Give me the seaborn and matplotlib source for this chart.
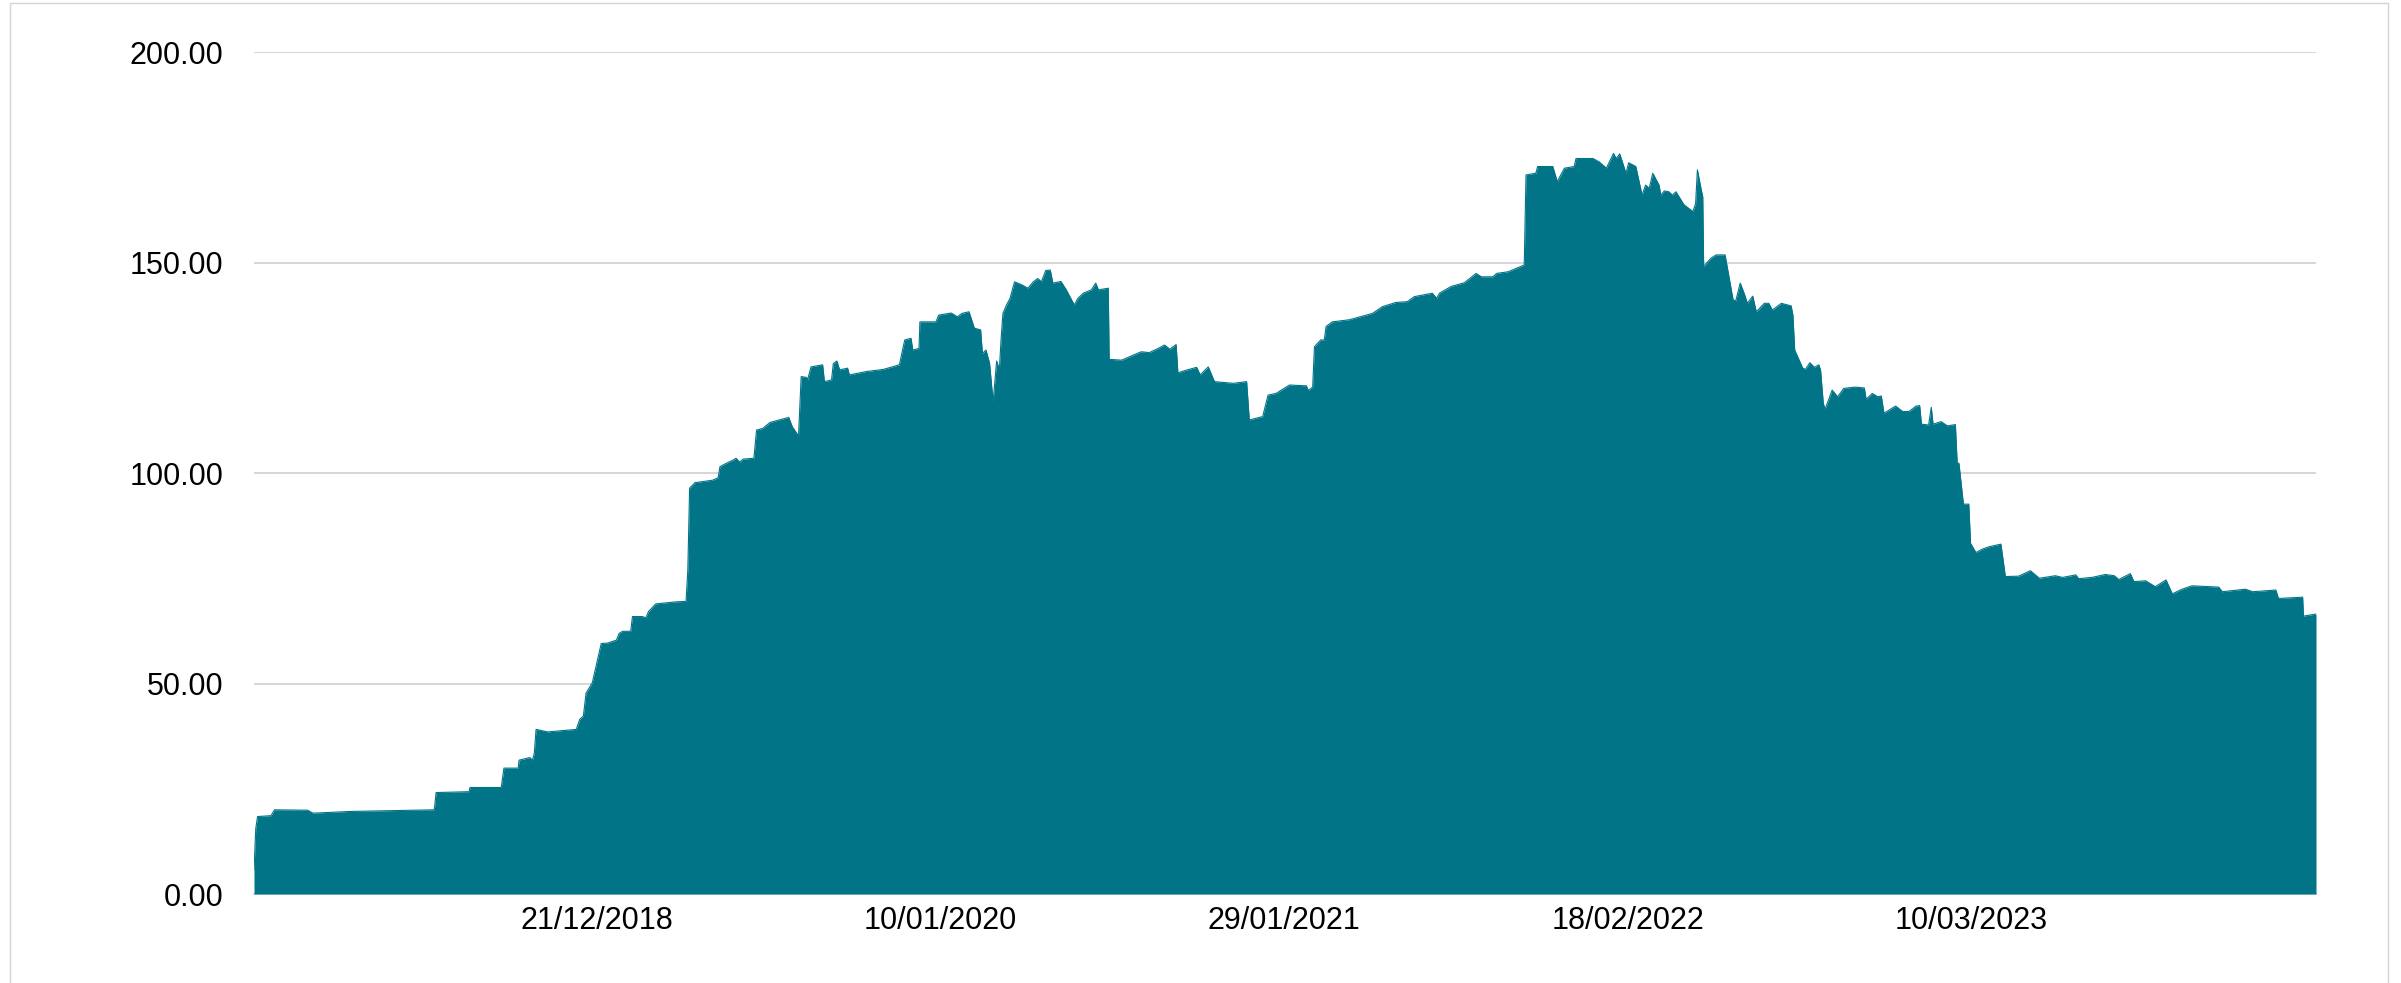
import pandas as pd
import numpy as np
import matplotlib
matplotlib.use("Agg")
import matplotlib.pyplot as plt
from matplotlib.patches import Rectangle
import seaborn as sns

# values
dates = [
    "2017-12-02", "2017-12-04", "2017-12-06", "2017-12-21", "2017-12-25", "2018-01-31", "2018-02-06",
    "2018-03-19", "2018-06-22", "2018-06-24", "2018-07-31", "2018-08-01", "2018-09-05", "2018-09-08",
    "2018-09-24", "2018-09-25", "2018-10-07", "2018-10-10", "2018-10-12", "2018-10-14", "2018-10-27",
    "2018-11-28", "2018-12-02", "2018-12-06", "2018-12-09", "2018-12-16", "2018-12-26", "2019-01-02",
    "2019-01-12", "2019-01-15", "2019-01-19", "2019-01-28", "2019-01-30", "2019-02-10", "2019-02-14",
    "2019-02-17", "2019-02-25", "2019-03-20", "2019-03-31", "2019-04-02", "2019-04-04", "2019-04-10",
    "2019-04-30", "2019-05-06", "2019-05-08", "2019-05-15", "2019-05-23", "2019-05-26", "2019-05-30",
    "2019-06-03", "2019-06-15", "2019-06-18", "2019-06-25", "2019-07-03", "2019-07-24", "2019-07-28",
    "2019-08-04", "2019-08-07", "2019-08-13", "2019-08-14", "2019-08-18", "2019-08-31", "2019-09-02",
    "2019-09-10", "2019-09-12", "2019-09-16", "2019-09-19", "2019-09-28", "2019-09-30", "2019-10-19",
    "2019-11-07", "2019-11-25", "2019-12-01", "2019-12-08", "2019-12-10", "2019-12-17", "2019-12-18",
    "2020-01-05", "2020-01-08", "2020-01-22", "2020-01-29", "2020-02-03", "2020-02-11", "2020-02-17",
    "2020-02-24", "2020-02-26", "2020-03-01", "2020-03-05", "2020-03-09", "2020-03-13", "2020-03-16",
    "2020-03-18", "2020-03-20", "2020-03-24", "2020-03-28", "2020-04-02", "2020-04-10", "2020-04-17",
    "2020-04-23", "2020-04-28", "2020-05-02", "2020-05-07", "2020-05-12", "2020-05-15", "2020-05-24",
    "2020-05-30", "2020-06-08", "2020-06-12", "2020-06-18", "2020-06-27", "2020-07-02", "2020-07-05",
    "2020-07-16", "2020-07-17", "2020-07-31", "2020-08-13", "2020-08-22", "2020-08-31", "2020-09-10",
    "2020-09-17", "2020-09-23", "2020-09-30", "2020-10-02", "2020-10-11", "2020-10-23", "2020-10-27",
    "2020-11-05", "2020-11-12", "2020-12-03", "2020-12-18", "2020-12-21", "2021-01-05", "2021-01-11",
    "2021-01-20", "2021-02-04", "2021-02-23", "2021-02-25", "2021-03-02", "2021-03-04", "2021-03-11",
    "2021-03-15", "2021-03-17", "2021-03-24", "2021-04-12", "2021-05-08", "2021-05-19", "2021-06-03",
    "2021-06-16", "2021-06-24", "2021-07-14", "2021-07-19", "2021-07-22", "2021-08-04", "2021-08-19",
    "2021-09-01", "2021-09-07", "2021-09-20", "2021-09-24", "2021-10-07", "2021-10-25", "2021-10-27",
    "2021-11-07", "2021-11-09", "2021-11-26", "2021-12-01", "2021-12-09", "2021-12-20", "2021-12-22",
    "2022-01-10", "2022-01-17", "2022-01-25", "2022-02-02", "2022-02-05", "2022-02-09", "2022-02-16",
    "2022-02-19", "2022-02-27", "2022-03-06", "2022-03-10", "2022-03-14", "2022-03-18", "2022-03-25",
    "2022-03-27", "2022-03-31", "2022-04-05", "2022-04-09", "2022-04-13", "2022-04-22", "2022-05-02",
    "2022-05-05", "2022-05-07", "2022-05-11", "2022-05-13", "2022-05-14", "2022-05-22", "2022-05-28",
    "2022-06-07", "2022-06-16", "2022-06-19", "2022-06-24", "2022-06-29", "2022-07-02", "2022-07-08",
    "2022-07-12", "2022-07-21", "2022-07-26", "2022-07-30", "2022-08-09", "2022-08-20", "2022-08-22",
    "2022-08-24", "2022-09-02", "2022-09-05", "2022-09-10", "2022-09-15", "2022-09-20", "2022-09-22",
    "2022-09-25", "2022-09-27", "2022-10-05", "2022-10-11", "2022-10-18", "2022-10-31", "2022-11-10",
    "2022-11-12", "2022-11-19", "2022-11-25", "2022-11-29", "2022-12-02", "2022-12-15", "2022-12-23",
    "2022-12-30", "2023-01-07", "2023-01-11", "2023-01-13", "2023-01-21", "2023-01-24", "2023-01-26",
    "2023-02-04", "2023-02-11", "2023-02-20", "2023-02-22", "2023-02-24", "2023-03-01", "2023-03-07",
    "2023-03-09", "2023-03-15", "2023-03-22", "2023-03-30", "2023-04-12", "2023-04-17", "2023-05-02",
    "2023-05-15", "2023-05-25", "2023-06-12", "2023-06-20", "2023-07-05", "2023-07-08", "2023-07-23",
    "2023-08-07", "2023-08-17", "2023-08-22", "2023-09-04", "2023-09-08", "2023-09-21", "2023-10-02",
    "2023-10-05", "2023-10-14", "2023-10-21", "2023-11-01", "2023-11-12", "2023-12-12", "2023-12-16",
    "2024-01-11", "2024-01-19", "2024-02-14", "2024-02-17", "2024-03-15", "2024-03-16", "2024-03-30",
]
values = [
    5.7, 15.6, 18.4, 18.6, 20.0, 19.9, 19.2,
    19.6, 20.0, 24.1, 24.3, 25.3, 25.3, 29.9,
    29.9, 31.8, 32.4, 31.8, 33.4, 39.1, 38.5,
    39.1, 41.5, 42.3, 47.7, 50.2, 59.5, 59.6,
    60.3, 61.9, 62.4, 62.4, 65.9, 65.9, 65.6,
    67.1, 68.9, 69.4, 69.5, 77.0, 96.4, 97.7,
    98.3, 98.9, 101.5, 102.3, 103.1, 103.5, 102.6,
    103.3, 103.5, 110.2, 110.6, 112.0, 113.2, 111.0,
    108.8, 122.9, 122.7, 122.0, 125.2, 125.7, 121.7,
    122.1, 126.0, 126.6, 124.5, 124.9, 123.3, 124.1,
    124.6, 125.7, 131.6, 132.0, 129.2, 129.6, 135.9,
    135.9, 137.5, 138.0, 137.1, 137.9, 138.3, 134.4,
    134.0, 128.4, 129.2, 126.1, 116.9, 126.6, 124.5,
    132.0, 137.9, 139.9, 141.5, 145.4, 144.7, 143.9,
    145.4, 146.2, 145.4, 148.1, 148.2, 145.1, 145.5,
    143.5, 139.9, 141.5, 142.7, 143.5, 145.1, 143.5,
    143.9, 127.0, 126.8, 128.0, 128.8, 128.6, 129.6,
    130.4, 129.4, 130.5, 123.8, 124.4, 125.1, 123.3,
    125.2, 121.7, 121.3, 121.7, 112.6, 113.4, 118.5,
    118.9, 120.9, 120.7, 119.6, 120.4, 130.0, 131.6,
    131.6, 134.8, 135.9, 136.4, 137.9, 139.5, 140.5,
    140.7, 141.9, 142.7, 141.5, 142.7, 144.3, 145.2,
    147.4, 146.6, 146.6, 147.4, 147.8, 149.4, 170.8,
    171.2, 172.8, 172.8, 169.2, 172.4, 172.8, 174.7,
    174.7, 173.9, 172.4, 175.9, 174.7, 175.8, 171.2,
    173.7, 172.8, 166.0, 168.4, 167.6, 171.2, 168.4,
    166.0, 167.0, 166.8, 166.0, 166.8, 163.7, 162.1,
    164.0, 172.0, 167.6, 165.6, 149.0, 151.0, 151.8,
    151.8, 141.1, 140.9, 145.1, 142.3, 140.3, 142.0,
    138.3, 140.3, 140.3, 138.7, 140.3, 139.7, 137.5,
    129.2, 124.9, 124.6, 126.2, 125.1, 125.7, 124.4,
    116.6, 115.1, 119.7, 118.1, 120.1, 120.4, 120.2,
    117.5, 118.9, 118.1, 118.3, 114.2, 115.9, 114.6,
    114.6, 115.9, 116.0, 111.6, 111.4, 115.6, 111.6,
    112.2, 111.2, 111.5, 102.4, 102.3, 92.6, 92.6,
    83.3, 81.1, 81.9, 82.5, 83.1, 75.4, 75.5,
    76.8, 75.0, 75.6, 75.2, 75.8, 74.9, 75.2,
    75.9, 75.6, 74.7, 76.1, 74.2, 74.4, 73.0,
    73.4, 74.6, 71.3, 72.4, 73.2, 72.9, 71.8,
    72.4, 71.8, 72.2, 70.2, 70.5, 66.0, 66.5,
]
tick_dates = ["2018-12-21", "2020-01-10", "2021-01-29", "2022-02-18", "2023-03-10"]
y_ticks = [0, 50, 100, 150, 200]

TEAL = "#027487"
GRID = "#d6d6d6"

df = pd.DataFrame({"date": pd.to_datetime(dates), "value": values})

sns.set_style("white")
plt.rcParams["font.family"] = ["Liberation Sans", "DejaVu Sans"]

fig = plt.figure(figsize=(24.01, 9.83), dpi=100)
ax = fig.add_axes([254 / 2401, 1 - 894 / 983, (2316 - 254) / 2401, (894 - 52) / 983])

sns.lineplot(data=df, x="date", y="value", ax=ax, color=TEAL, linewidth=0.8)
ax.fill_between(df["date"], df["value"], 0, color=TEAL, linewidth=0)

ax.set_xlim(df["date"].min(), df["date"].max())
ax.set_ylim(0, 200)
ax.set_yticks(y_ticks)
ax.set_yticklabels([f"{v:.2f}" for v in y_ticks])
ticks = pd.to_datetime(tick_dates)
ax.set_xticks(ticks)
ax.set_xticklabels([t.strftime("%d/%m/%Y") for t in ticks])

ax.set_xlabel("")
ax.set_ylabel("")
ax.grid(axis="y", color=GRID, linewidth=1.4)
ax.set_axisbelow(True)
for side in ["top", "right", "left"]:
    ax.spines[side].set_visible(False)
ax.spines["bottom"].set_color(GRID)
ax.spines["bottom"].set_linewidth(1.4)
ax.spines["bottom"].set_zorder(0)

ax.tick_params(axis="y", length=0, pad=22, labelsize=22, labelcolor="black")
ax.tick_params(axis="x", length=6.3, width=1.0, color=GRID, pad=2.5, labelsize=22, labelcolor="black")

# light frame around the whole chart
fig.patches.append(Rectangle((10 / 2401, -0.01), (2388 - 10) / 2401, 1.01 - 3 / 983,
                             transform=fig.transFigure, fill=False, edgecolor="#d4d4d4",
                             linewidth=1.0, clip_on=False))

fig.savefig("out.png", dpi=100, facecolor="white")
